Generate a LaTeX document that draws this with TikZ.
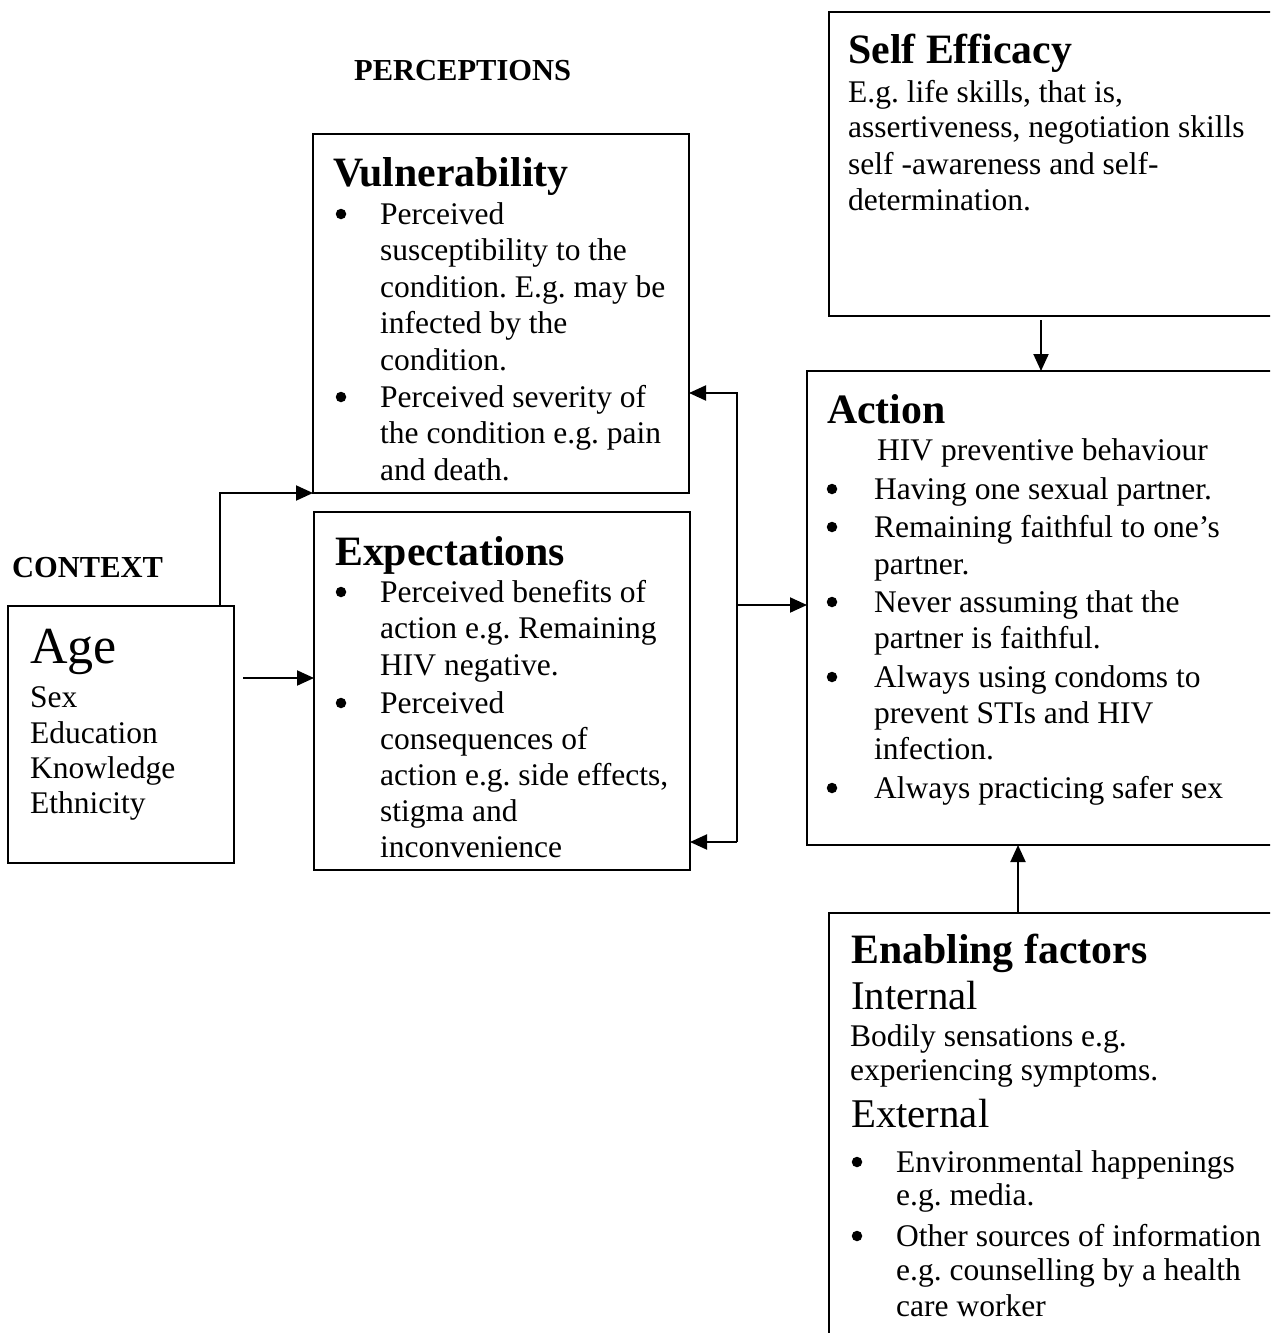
\documentclass[tikz,border=0pt]{standalone}
\usepackage{fontspec}
\setmainfont{Liberation Serif}
\usetikzlibrary{arrows.meta}
\frenchspacing
\tikzset{
  box/.style={draw, line width=2pt, rectangle, inner sep=0pt, outer sep=0pt, anchor=north west},
  arr/.style={line width=2pt, -{Triangle[length=17pt,width=15pt]}},
  tx/.style={anchor=base west, inner sep=0pt, font=\fontsize{31.5}{36}\selectfont},
  hd/.style={anchor=base west, inner sep=0pt, font=\fontsize{41.8}{48}\selectfont\bfseries},
  sub/.style={anchor=base west, inner sep=0pt, font=\fontsize{40.8}{46}\selectfont},
  big/.style={anchor=base west, inner sep=0pt, font=\fontsize{52}{60}\selectfont},
  lb/.style={anchor=base west, inner sep=0pt, font=\fontsize{30.5}{36}\selectfont\bfseries},
  dot/.style={circle, fill, inner sep=0pt, minimum size=10.5pt},
}
\begin{document}
\begin{tikzpicture}[x=1pt,y=-1pt]
\useasboundingbox (0,0) rectangle (1270,1333);
\begin{scope}
\clip (0,0) rectangle (1270,1333);
% boxes
\node[box, minimum width=376pt, minimum height=359pt] (vul) at (313,134) {};
\node[box, minimum width=376pt, minimum height=358pt] (exp) at (314,512) {};
\node[box, minimum width=226pt, minimum height=257pt] (age) at (8,606) {};
\node[box, minimum width=480pt, minimum height=304pt] (self) at (829,12) {};
\node[box, minimum width=500pt, minimum height=474pt] (act) at (807,371) {};
\node[box, minimum width=480pt, minimum height=450pt] (ena) at (829,913) {};

% labels
\node[lb] (lperc) at (354,80) {PERCEPTIONS};
\node[lb] (lctx) at (12,577) {CONTEXT};

% Vulnerability
\node[hd] (vh) at (333,186) {Vulnerability};
\node[dot] (vb1) at (341,214) {};
\node[tx] (v1) at (380,224) {Perceived};
\node[tx] (v2) at (380,260.5) {susceptibility to the};
\node[tx] (v3) at (380,297) {condition. E.g. may be};
\node[tx] (v4) at (380,333.5) {infected by the};
\node[tx] (v5) at (380,370) {condition.};
\node[dot] (vb2) at (341,397) {};
\node[tx] (v6) at (380,407) {Perceived severity of};
\node[tx] (v7) at (380,443.5) {the condition e.g. pain};
\node[tx] (v8) at (380,480) {and death.};

% Expectations
\node[hd] (eh) at (335,565) {Expectations};
\node[dot] (eb1) at (341,592) {};
\node[tx] (e1) at (380,602) {Perceived benefits of};
\node[tx] (e2) at (380,638) {action e.g. Remaining};
\node[tx] (e3) at (380,675) {HIV negative.};
\node[dot] (eb2) at (341,703) {};
\node[tx] (e4) at (380,713) {Perceived};
\node[tx] (e5) at (380,749) {consequences of};
\node[tx] (e6) at (380,785) {action e.g. side effects,};
\node[tx] (e7) at (380,821) {stigma and};
\node[tx] (e8) at (380,857) {inconvenience};

% Age
\node[big] (ah) at (30,663) {Age};
\node[tx] (a1) at (30,707) {Sex};
\node[tx] (a2) at (30,743) {Education};
\node[tx] (a3) at (30,778) {Knowledge};
\node[tx] (a4) at (30,813) {Ethnicity};

% Self efficacy
\node[hd] (sh) at (848,63) {Self Efficacy};
\node[tx] (s1) at (848,102) {E.g. life skills, that is,};
\node[tx] (s2) at (848,137) {assertiveness, negotiation skills};
\node[tx] (s3) at (848,174) {self -awareness and self-};
\node[tx] (s4) at (848,210) {determination.};

% Action
\node[hd] (ach) at (827,423) {Action};
\node[tx] (c0) at (877,460) {HIV preventive behaviour};
\node[dot] (cb1) at (832,489) {};
\node[tx] (c1) at (874,499) {Having one sexual partner.};
\node[dot] (cb2) at (832,527) {};
\node[tx] (c2) at (874,537) {Remaining faithful to one’s};
\node[tx] (c3) at (874,574) {partner.};
\node[dot] (cb3) at (832,602) {};
\node[tx] (c4) at (874,612) {Never assuming that the};
\node[tx] (c5) at (874,648) {partner is faithful.};
\node[dot] (cb4) at (832,677) {};
\node[tx] (c6) at (874,687) {Always using condoms to};
\node[tx] (c7) at (874,723) {prevent STIs and HIV};
\node[tx] (c8) at (874,759) {infection.};
\node[dot] (cb5) at (832,788) {};
\node[tx] (c9) at (874,798) {Always practicing safer sex};

% Enabling factors
\node[hd] (nh) at (851,963) {Enabling factors};
\node[sub] (ni) at (851,1009) {Internal};
\node[tx] (n1) at (850,1046) {Bodily sensations e.g.};
\node[tx] (n2) at (850,1080) {experiencing symptoms.};
\node[sub] (nx) at (851,1127) {External};
\node[dot] (nb1) at (857,1162) {};
\node[tx] (n3) at (896,1172) {Environmental happenings};
\node[tx] (n4) at (896,1205) {e.g. media.};
\node[dot] (nb2) at (857,1236) {};
\node[tx] (n5) at (896,1246) {Other sources of information};
\node[tx] (n6) at (896,1280) {e.g. counselling by a health};
\node[tx] (n7) at (896,1316) {care worker};

% connectors
\coordinate (ageup) at (220,606);
\draw[arr] (ageup) |- (vul.south west);
\coordinate (ageright) at (243,678);
\draw[arr] (ageright) -- (ageright -| exp.west);
\coordinate (bt) at (737,393);
\coordinate (bb) at (737,842);
\coordinate (br) at (737,605);
\draw[arr] (bb) -- (bt) -- (bt -| vul.east);
\draw[arr] (bb) -- (bb -| exp.east);
\draw[arr] (br) -- (br -| act.west);
\coordinate (sd) at (1041,320);
\draw[arr] (sd) -- (sd |- act.north);
\coordinate (eu) at (1018,913);
\draw[arr] (eu) -- (eu |- act.south);
\end{scope}
\end{tikzpicture}
\end{document}
